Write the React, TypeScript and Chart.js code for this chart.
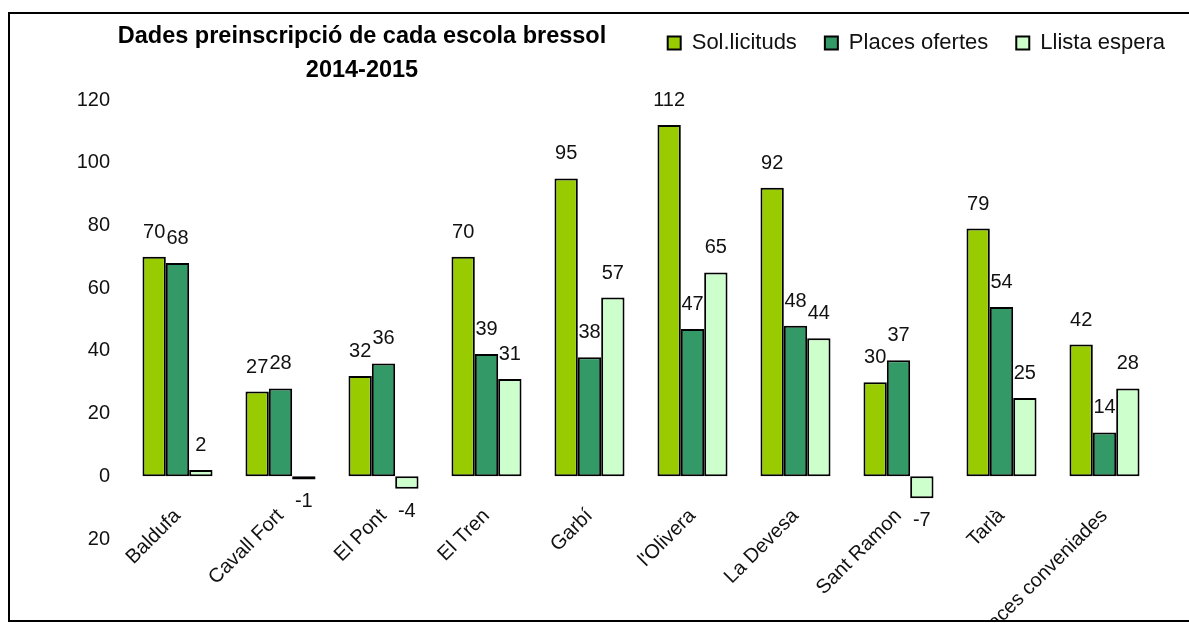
import React, { useEffect, useRef } from 'react';
import { Chart, registerables } from 'chart.js';

Chart.register(...registerables);

const CATEGORIES = ['Baldufa', 'Cavall Fort', 'El Pont', 'El Tren', 'Garbí', "l'Olivera", 'La Devesa', 'Sant Ramon', 'Tarlà', 'Places conveniades'];
const SOLLICITUDS = [70, 27, 32, 70, 95, 112, 92, 30, 79, 42];
const PLACES_OFERTES = [68, 28, 36, 39, 38, 47, 48, 37, 54, 14];
const LLISTA_ESPERA = [2, -1, -4, 31, 57, 65, 44, -7, 25, 28];
const SERIES_NAMES = ['Sol.licituds', 'Places ofertes', 'Llista espera'];
const SERIES_COLORS = ['#99cc00', '#339966', '#ccffcc'];
const Y_TICK_VALUES = [-20, 0, 20, 40, 60, 80, 100, 120];
const Y_TICK_LABELS = ['20', '0', '20', '40', '60', '80', '100', '120'];
const TITLE_LINES = ['Dades preinscripció de cada escola bressol', '2014-2015'];

const FONT = "'Liberation Sans', Arial, sans-serif";
const TEXT_COLOR = '#111111';

const titlePlugin = {
  id: 'customTitle',
  afterDraw(chart: any) {
    const ctx = chart.ctx;
    ctx.save();
    ctx.fillStyle = '#000';
    ctx.font = `bold 23.5px ${FONT}`;
    ctx.textAlign = 'center';
    ctx.textBaseline = 'middle';
    ctx.fillText(TITLE_LINES[0], 352, 23);
    ctx.fillText(TITLE_LINES[1], 352, 57);
    ctx.restore();
  },
};

const valueLabelPlugin = {
  id: 'valueLabels',
  afterDatasetsDraw(chart: any) {
    const ctx = chart.ctx;
    ctx.save();
    ctx.fillStyle = TEXT_COLOR;
    ctx.font = `20px ${FONT}`;
    ctx.textAlign = 'center';
    ctx.textBaseline = 'alphabetic';
    chart.data.datasets.forEach((ds: any, di: number) => {
      const meta = chart.getDatasetMeta(di);
      meta.data.forEach((el: any, i: number) => {
        const v = ds.data[i];
        const y = v >= 0 ? el.y - 19 : el.y + 28;
        ctx.fillText(String(v), el.x, y);
      });
    });
    ctx.restore();
  },
};

const LEGEND_BLOCK_H = 96;
const legendHeightPlugin = {
  id: 'legendHeight',
  beforeLayout(chart: any) {
    const lg = chart.legend;
    if (lg && !lg.__fixedH) {
      const fit = lg.fit.bind(lg);
      lg.fit = function () {
        fit();
        this.height = LEGEND_BLOCK_H;
      };
      lg.__fixedH = true;
    }
  },
};

export default function App() {
  const ref = useRef<HTMLCanvasElement>(null);

  useEffect(() => {
    const seriesData = [SOLLICITUDS, PLACES_OFERTES, LLISTA_ESPERA];
    const chart = new Chart(ref.current as HTMLCanvasElement, {
      type: 'bar',
      data: {
        labels: CATEGORIES,
        datasets: seriesData.map((d, i) => ({
          label: SERIES_NAMES[i],
          data: d,
          backgroundColor: SERIES_COLORS[i],
          borderColor: '#000000',
          borderWidth: 2,
          borderSkipped: false,
          categoryPercentage: 0.68,
          barPercentage: 1,
          yAxisID: 'y',
        })),
      },
      options: {
        responsive: false,
        animation: false,
        devicePixelRatio: 1,
        layout: { padding: { top: -10, left: 0, right: 0, bottom: 81 } },
        plugins: {
          legend: {
            position: 'top',
            align: 'end',
            labels: {
              boxWidth: 13,
              boxHeight: 13,
              padding: 28,
              color: TEXT_COLOR,
              font: { size: 22, family: FONT },
            },
          },
          title: { display: false },
          tooltip: { enabled: false },
        },
        scales: {
          x: {
            position: { y: 0 } as any,
            grid: { display: false, drawTicks: false },
            border: { display: false },
            ticks: {
              minRotation: 45,
              maxRotation: 45,
              autoSkip: false,
              padding: 28,
              color: TEXT_COLOR,
              font: { size: 20, family: FONT },
            },
          },
          y: {
            position: 'left',
            min: -20,
            max: 120,
            grid: { display: false, drawTicks: false },
            border: { display: false },
            afterFit: (s: any) => {
              s.width = 116;
            },
            ticks: {
              stepSize: 20,
              padding: 16,
              color: TEXT_COLOR,
              font: { size: 20, family: FONT },
              callback: (v: any) => {
                const idx = Y_TICK_VALUES.indexOf(Number(v));
                return idx >= 0 ? Y_TICK_LABELS[idx] : '';
              },
            },
          },
          yRight: {
            position: 'right',
            display: true,
            min: 0,
            max: 1,
            grid: { display: false, drawTicks: false },
            border: { display: false },
            ticks: { display: false },
            afterFit: (s: any) => {
              s.width = 37;
            },
          },
        },
      },
      plugins: [titlePlugin, valueLabelPlugin, legendHeightPlugin],
    } as any);
    return () => chart.destroy();
  }, []);

  return (
    <div
      style={{
        position: 'absolute',
        left: 8,
        top: 12,
        width: 1181,
        height: 610,
        border: '2px solid #000',
        borderRight: 'none',
        boxSizing: 'border-box',
        overflow: 'hidden',
        background: '#fff',
      }}
    >
      <canvas ref={ref} width={1183} height={606} style={{ display: 'block', width: 1183, height: 606 }} />
    </div>
  );
}
